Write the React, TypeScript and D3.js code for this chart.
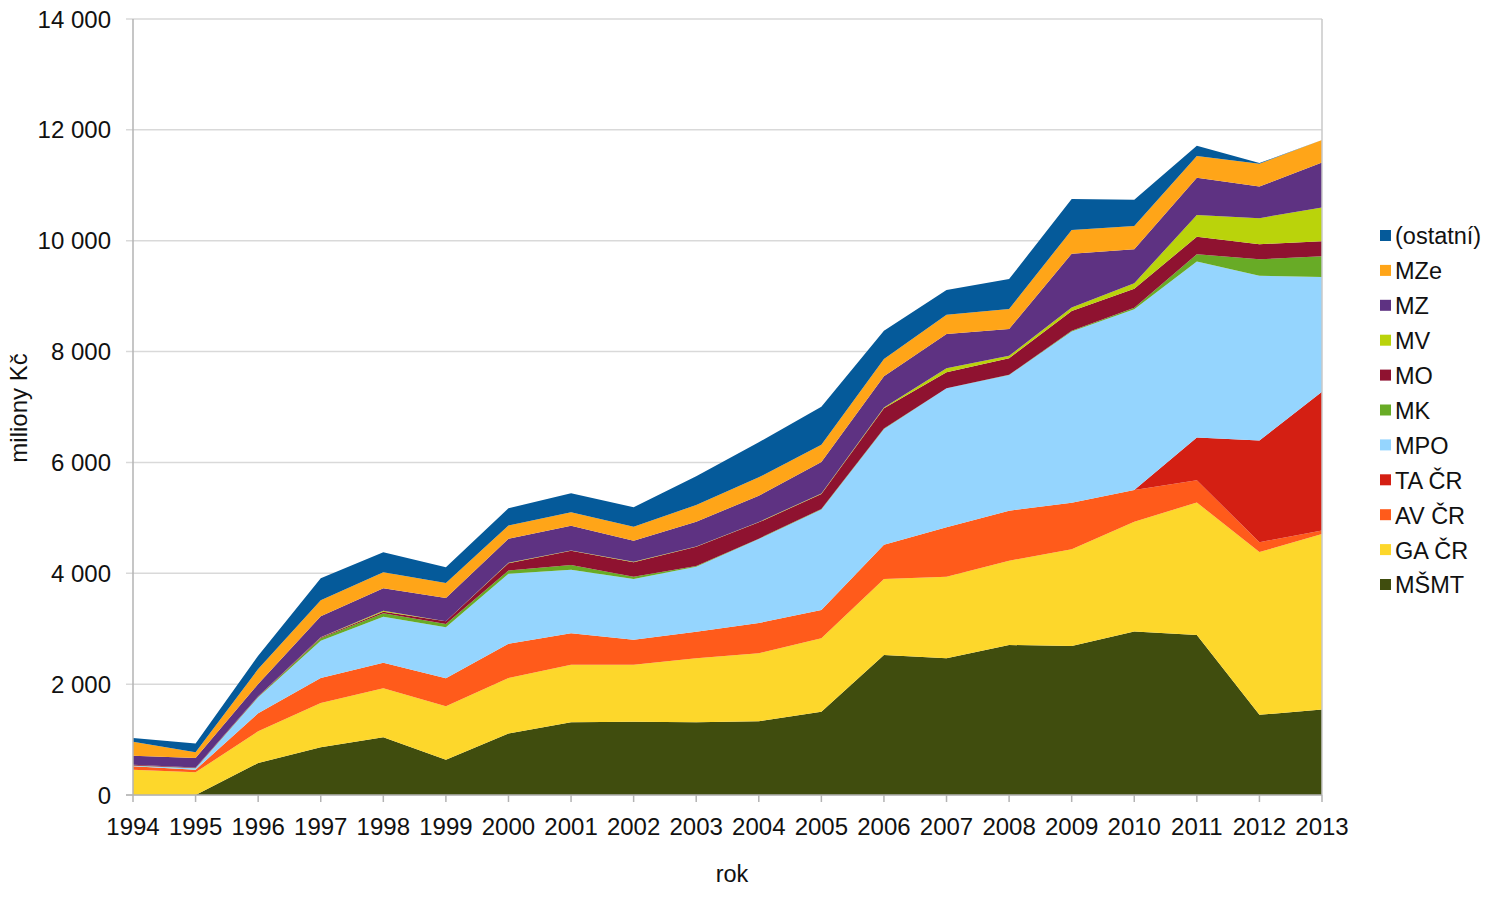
import React from "react";
import * as d3 from "d3";

const years = [1994,1995,1996,1997,1998,1999,2000,2001,2002,2003,2004,2005,2006,2007,2008,2009,2010,2011,2012,2013];

const MSMT    = [0,0,577,860,1041,637,1110,1311,1323,1311,1329,1500,2526,2466,2706,2690,2950,2888,1447,1541];
const GACR    = [456,409,572,800,884,963,1000,1040,1028,1155,1227,1327,1371,1472,1521,1745,1981,2389,2935,3169];
const AVCR    = [62,47,325,450,462,505,620,566,451,480,547,510,619,892,902,839,571,400,180,62];
const TACR    = [0,0,0,0,0,0,0,0,0,0,0,0,0,0,0,0,0,773,1832,2505];
const MPO     = [11,25,288,674,830,920,1260,1148,1095,1173,1515,1813,2087,2507,2448,3090,3262,3175,2972,2068];
const MK      = [5,4,10,43,61,60,60,85,41,11,7,9,7,3,5,10,26,133,298,375];
const MO      = [10,10,10,13,29,48,133,257,260,349,294,271,366,286,296,358,342,314,274,272];
const MV      = [0,0,0,5,18,2,5,3,12,3,6,10,14,72,47,61,102,391,469,607];
const MZ      = [165,172,220,379,404,419,433,448,378,448,474,567,563,618,482,973,610,673,572,811];
const MZe     = [253,103,271,288,289,270,240,242,252,302,332,310,312,349,361,429,423,392,408,406];
const ostatni = [66,160,240,397,360,283,314,343,350,517,632,687,511,445,541,556,471,187,14,0];

const seriesNames = ["MŠMT","GA ČR","AV ČR","TA ČR","MPO","MK","MO","MV","MZ","MZe","(ostatní)"];
const seriesValues = [MSMT,GACR,AVCR,TACR,MPO,MK,MO,MV,MZ,MZe,ostatni];
const seriesColors = ["#404d0e","#fdd72b","#ff5b1b","#d41f13","#95d5fe","#68ab26","#8f1230","#bad30b","#5e3282","#ffa518","#055a9a"];

const yTicks = [0,2000,4000,6000,8000,10000,12000,14000];

const FONT = "'Liberation Sans', Arial, sans-serif";

export default function App() {
  const W = 1491, H = 897;
  const x = d3.scaleLinear().domain([1994, 2013]).range([133, 1322]);
  const y = d3.scaleLinear().domain([0, 14000]).range([795, 19]);

  const rows = years.map((yr, i) => {
    const r: any = { year: yr };
    seriesNames.forEach((n, k) => { r[n] = seriesValues[k][i]; });
    return r;
  });
  const stack = d3.stack<any>().keys(seriesNames);
  const layers = stack(rows);
  const area = d3.area<any>()
    .x((d: any) => x(d.data.year))
    .y0((d: any) => y(d[0]))
    .y1((d: any) => y(d[1]));

  const fmt = (v: number) => v === 0 ? "0" : d3.format(",")(v).replace(/,/g, " ");

  const legendOrder = seriesNames.map((n, i) => ({ n, c: seriesColors[i] })).reverse();

  return (
    <svg width={W} height={H} style={{ position: "absolute", left: 0, top: 0, background: "#fff" }} fontFamily={FONT}>
      <rect x={0} y={0} width={W} height={H} fill="#fff" />
      {yTicks.map(t => (
        <line key={"g" + t} x1={126} x2={1322} y1={y(t)} y2={y(t)} stroke="#d9d9d9" strokeWidth={1.5} />
      ))}
      {layers.map((l, i) => (
        <path key={"a" + i} d={area(l as any) || ""} fill={seriesColors[i]} />
      ))}
      <line x1={133} x2={133} y1={19} y2={795} stroke="#b3b3b3" strokeWidth={1.5} />
      <line x1={1322} x2={1322} y1={19} y2={795} stroke="#c8c8c8" strokeWidth={1.5} />
      <line x1={126} x2={1322} y1={795} y2={795} stroke="#b3b3b3" strokeWidth={1.5} />
      {years.map(yr => (
        <line key={"t" + yr} x1={x(yr)} x2={x(yr)} y1={795} y2={802} stroke="#b3b3b3" strokeWidth={1.5} />
      ))}
      {yTicks.map(t => (
        <text key={"yl" + t} x={111} y={y(t)} dy="0.36em" textAnchor="end" fontSize={24} fill="#111">{fmt(t)}</text>
      ))}
      {years.map(yr => (
        <text key={"xl" + yr} x={x(yr)} y={835} textAnchor="middle" fontSize={24} fill="#111">{yr}</text>
      ))}
      <text x={732} y={882} textAnchor="middle" fontSize={23.5} fill="#111">rok</text>
      <text transform="translate(27,408) rotate(-90)" textAnchor="middle" fontSize={24} fill="#111">miliony Kč</text>
      {legendOrder.map((it, i) => (
        <g key={"lg" + i} transform={`translate(1380, ${236 + i * 34.9})`}>
          <rect x={0} y={-6} width={11} height={11} fill={it.c} />
          <text x={15} y={0} dy="0.36em" fontSize={23.5} fill="#111">{it.n}</text>
        </g>
      ))}
    </svg>
  );
}
